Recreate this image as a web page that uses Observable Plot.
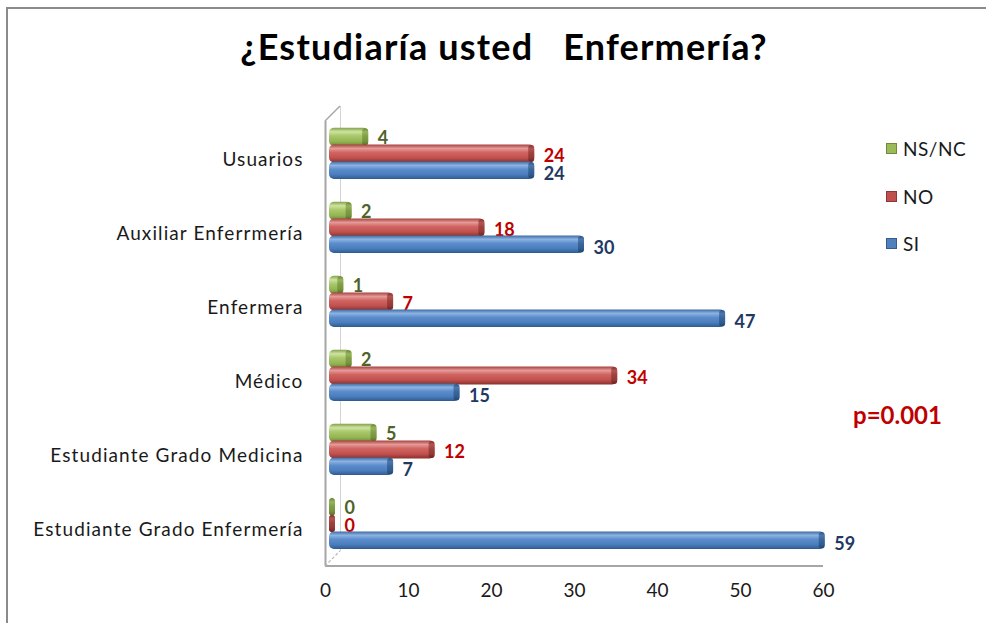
<!DOCTYPE html>
<html>
<head>
<meta charset="utf-8">
<script src="https://cdn.jsdelivr.net/npm/d3@7"></script>
<script src="https://cdn.jsdelivr.net/npm/@observablehq/plot@0.6"></script>
<style>
  html, body { margin: 0; padding: 0; background: #fff; }
  #wrap { position: relative; width: 986px; height: 623px; overflow: hidden; font-family: Lato, "Open Sans", sans-serif; }
  #border { position: absolute; left: 6px; top: 7px; width: 1200px; height: 1200px; border-left: 2px solid #8a8a8a; border-top: 2px solid #8a8a8a; }
  #title { position: absolute; left: 0; width: 1008px; top: 24px; text-align: center; font-size: 36px; font-weight: bold; color: #000; white-space: pre; letter-spacing: 1.2px; }
  #chart { position: absolute; left: 0; top: 0; }
  .leg { position: absolute; left: 886px; font-size: 19px; color: #1a1a1a; display: flex; align-items: center; letter-spacing: 0.5px; }
  .leg .sw { width: 9px; height: 9px; margin-right: 6px; border: 1px solid; }
  #pval { position: absolute; left: 853px; top: 400px; font-size: 24px; font-weight: bold; color: #c00000; }
  #chart svg g[aria-label="y-axis tick label"] text { letter-spacing: 1.1px; }
</style>
</head>
<body>
<div id="wrap">
  <div id="border"></div>
  <div id="chart"></div>
  <div id="title">¿Estudiaría usted   Enfermería?</div>
  <div id="legend"></div>
  <div id="pval">p=0.001</div>
</div>
<script>
const categories = ["Usuarios", "Auxiliar Enferrmería", "Enfermera", "Médico", "Estudiante Grado Medicina", "Estudiante Grado Enfermería"];
const seriesNames = ["NS/NC", "NO", "SI"];
const nsncValues = [4, 2, 1, 2, 5, 0];
const noValues = [24, 18, 7, 34, 12, 0];
const siValues = [24, 30, 47, 15, 7, 59];
const xTicks = [0, 10, 20, 30, 40, 50, 60];

const seriesStyle = {
  "NS/NC": {grad: "gGreen", cap: "cGreen", label: "#4f6228", sw: "#9bbb59", swb: "#71893f", insetTop: 5.7, insetBottom: 50, dy: -21},
  "NO":    {grad: "gRed",   cap: "cRed",   label: "#c00000", sw: "#c0504d", swb: "#8c3836", insetTop: 22.5, insetBottom: 33.5, dy: -3},
  "SI":    {grad: "gBlue",  cap: "cBlue",  label: "#1f3864", sw: "#4f81bd", swb: "#385d8a", insetTop: 39.5, insetBottom: 17, dy: 15}
};
const valuesBySeries = {"NS/NC": nsncValues, "NO": noValues, "SI": siValues};

const rows = [];
seriesNames.forEach(s => categories.forEach((c, i) => rows.push({cat: c, series: s, value: valuesBySeries[s][i]})));

const font = "Lato, 'Open Sans', sans-serif";
const marks = [];
marks.push(Plot.ruleX([0], {stroke: "#d4d4d4", strokeWidth: 1, dx: 15, insetTop: -15, insetBottom: 15}));
seriesNames.forEach(s => {
  const st = seriesStyle[s];
  const data = rows.filter(d => d.series === s);
  marks.push(Plot.barX(data, {
    x1: 0, x2: "value", y: "cat",
    fill: `url(#${st.grad})`,
    insetTop: st.insetTop, insetBottom: st.insetBottom,
    insetRight: -6, dx: 4, rx: 5
  }));
  // darker elliptical end cap of the cylinder
  marks.push(Plot.barX(data, {
    x1: "value", x2: "value", y: "cat",
    fill: `url(#${st.cap})`,
    insetTop: st.insetTop + 0.5, insetBottom: st.insetBottom + 0.5,
    insetLeft: 0, insetRight: -6, dx: 4, rx: 3
  }));
  marks.push(Plot.text(data, {
    x: "value", y: "cat", text: d => String(d.value),
    dx: 19, dy: st.dy, textAnchor: "start",
    fill: st.label, fontWeight: "bold", fontSize: 18
  }));
});
marks.push(Plot.ruleX([0], {stroke: "#a6a6a6", strokeWidth: 2}));

const plot = Plot.plot({
  width: 986, height: 623,
  marginLeft: 325, marginRight: 163, marginTop: 121, marginBottom: 57,
  style: {fontFamily: font, fontSize: "19px", color: "#1a1a1a", background: "transparent"},
  x: {domain: [0, 60], ticks: xTicks, tickSize: 0, tickPadding: 17, label: null},
  y: {domain: categories, padding: 0, tickSize: 0, tickPadding: 22, label: null},
  marks
});
document.getElementById("chart").appendChild(plot);

// gradients for the cylinder look
const svg = d3.select(plot);
const defs = svg.insert("defs", ":first-child");
const grads = {
  gBlue:  ["#3d6ba3", "#8db3e2", "#5b8dcc", "#4a7dbd", "#2f5a8e"],
  gRed:   ["#a8413e", "#e49a98", "#d06360", "#c0504d", "#8a2f2c"],
  gGreen: ["#82a048", "#cde3a0", "#a9c76a", "#94b553", "#6b8733"],
  cBlue:  ["#2d5588", "#4d78ab", "#3c679c", "#305c91", "#22456f"],
  cRed:   ["#8a302d", "#b25553", "#a04340", "#933936", "#6e2220"],
  cGreen: ["#6a8634", "#97b55c", "#82a048", "#76933e", "#56702a"]
};
Object.entries(grads).forEach(([id, c]) => {
  const g = defs.append("linearGradient").attr("id", id).attr("x1", 0).attr("y1", 0).attr("x2", 0).attr("y2", 1);
  [[0, c[0]], [0.22, c[1]], [0.45, c[2]], [0.75, c[3]], [1, c[4]]].forEach(([o, col]) =>
    g.append("stop").attr("offset", o).attr("stop-color", col));
});
// floor line and 3D depth edges
const xs = plot.scale("x");
const x0 = xs.apply(0), x60 = xs.apply(60);
svg.append("line")
  .attr("x1", x0).attr("x2", x60).attr("y1", 566).attr("y2", 566)
  .attr("stroke", "#a6a6a6").attr("stroke-width", 2);
svg.append("line")
  .attr("x1", x0).attr("x2", x0 + 15).attr("y1", 121).attr("y2", 106)
  .attr("stroke", "#a6a6a6").attr("stroke-width", 1.5);
svg.append("line")
  .attr("x1", x0).attr("x2", x0 + 15).attr("y1", 566).attr("y2", 551)
  .attr("stroke", "#b8b8b8").attr("stroke-width", 1.2).attr("stroke-dasharray", "3,2");

// legend
const legend = document.getElementById("legend");
const legendTops = {"NS/NC": 137, "NO": 185, "SI": 232};
seriesNames.forEach(s => {
  const st = seriesStyle[s];
  const el = document.createElement("div");
  el.className = "leg";
  el.style.top = legendTops[s] + "px";
  el.innerHTML = `<span class="sw" style="background:${st.sw};border-color:${st.swb}"></span><span>${s}</span>`;
  legend.appendChild(el);
});
</script>
</body>
</html>
